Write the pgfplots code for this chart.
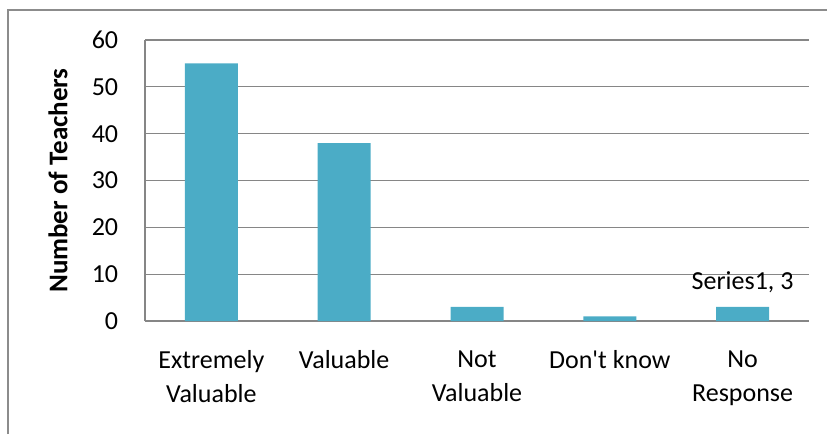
\documentclass[border=0pt]{standalone}
\usepackage{fontspec}
\setmainfont{Carlito}
\usepackage{pgfplots}
\pgfplotsset{compat=1.18}
\definecolor{barc}{HTML}{4BACC6}
\definecolor{gridc}{HTML}{868686}
\definecolor{framec}{HTML}{8C8C8C}
\begin{document}
\fontsize{26}{34}\selectfont
\begin{tikzpicture}[x=1pt,y=1pt]
\useasboundingbox (0,0) rectangle (827,434);
\draw[framec, line width=2pt] (8,0) -- (8,424) -- (827,424);
\begin{axis}[
  at={(145pt,113pt)}, anchor=south west,
  scale only axis, width=664pt, height=281pt,
  xmin=-0.5, xmax=4.5, ymin=0, ymax=60,
  ytick={0,10,...,60},
  xtick={0,1,2,3,4},
  xticklabels={Extremely\\Valuable, Valuable, Not\\Valuable, Don\textquotesingle t know, No\\Response},
  axis x line*=bottom, axis y line*=left,
  axis line style={gridc, line width=1.3pt, -},
  ymajorgrids, grid style={gridc, line width=1.3pt},
  major tick length=0pt,
  /pgf/number format/assume math mode=true,
  tick label style={font=\fontsize{26}{34}\selectfont, text=black},
  xticklabel style={align=center, anchor=north, yshift=-21pt},
  yticklabel style={anchor=east, xshift=-18pt},
  ylabel={\bfseries Number of Teachers},
  ylabel style={at={(axis description cs:-0.131,0.5)}, anchor=center, font=\fontsize{27}{34}\selectfont},
  ybar, bar width=53pt,
  nodes near coords, point meta=explicit symbolic,
  nodes near coords style={font=\fontsize{26}{34}\selectfont, anchor=south, yshift=5pt},
]
\addplot[fill=barc, draw=none] coordinates {(0,55) [] (1,38) [] (2,3) [] (3,1) [] (4,3) [{Series1, 3}]};
\end{axis}
\end{tikzpicture}
\end{document}
